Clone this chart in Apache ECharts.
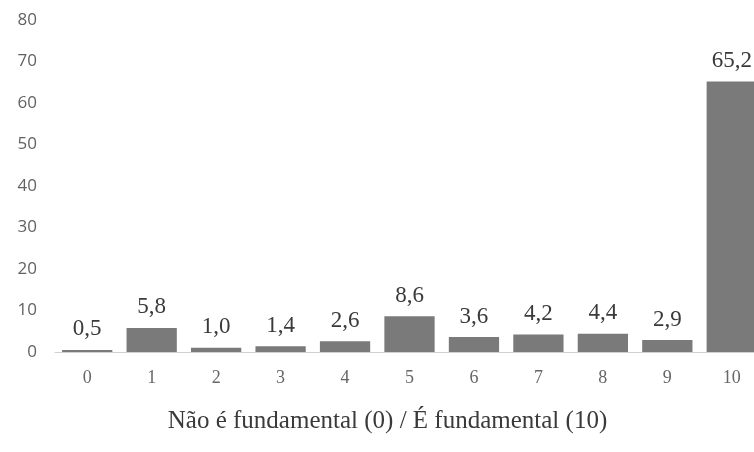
<!DOCTYPE html>
<html>
<head>
<meta charset="utf-8">
<script src="https://cdn.jsdelivr.net/npm/echarts@6/dist/echarts.min.js"></script>
<style>
  html, body { margin: 0; padding: 0; background: #fff; overflow: hidden; }
  /* the plot runs slightly past the right edge of the page */
  #chart { width: 770px; height: 452px; }
</style>
</head>
<body>
<div id="chart"></div>
<script>
// Scale positions 0..10 and the share of answers at each position (%)
const categories = ['0', '1', '2', '3', '4', '5', '6', '7', '8', '9', '10'];
const values = [0.5, 5.8, 1.0, 1.4, 2.6, 8.6, 3.6, 4.2, 4.4, 2.9, 65.2];
const yTicks = [0, 10, 20, 30, 40, 50, 60, 70, 80];
const axisTitle = 'Não é fundamental (0) / É fundamental (10)';

const chart = echarts.init(document.getElementById('chart'));
chart.setOption({
  animation: false,
  grid: { left: 55, top: 20, width: 709, bottom: 100 },
  xAxis: {
    type: 'category',
    data: categories,
    name: axisTitle,
    nameLocation: 'middle',
    nameGap: 57,
    nameTextStyle: { fontFamily: 'Liberation Serif', fontSize: 25, color: '#3a3a3a', padding: [0, 44, 0, 0] },
    axisLine: { lineStyle: { color: '#d0d0d0', width: 1 } },
    axisTick: { show: false },
    axisLabel: { fontFamily: 'Liberation Serif', fontSize: 18, color: '#666', margin: 17 }
  },
  yAxis: {
    type: 'value',
    min: yTicks[0],
    max: yTicks[yTicks.length - 1],
    interval: 10,
    splitLine: { show: false },
    axisLine: { show: false },
    axisTick: { show: false },
    axisLabel: { fontFamily: 'Open Sans', fontSize: 17, color: '#626262', margin: 18 }
  },
  series: [{
    type: 'bar',
    data: values,
    barCategoryGap: '22%',
    itemStyle: { color: '#7a7a7a' },
    label: {
      show: true,
      position: 'top',
      distance: 9,
      fontFamily: 'Liberation Serif',
      fontSize: 23,
      color: '#3a3a3a',
      formatter: p => p.value.toFixed(1).replace('.', ',')
    }
  }]
});
</script>
</body>
</html>
